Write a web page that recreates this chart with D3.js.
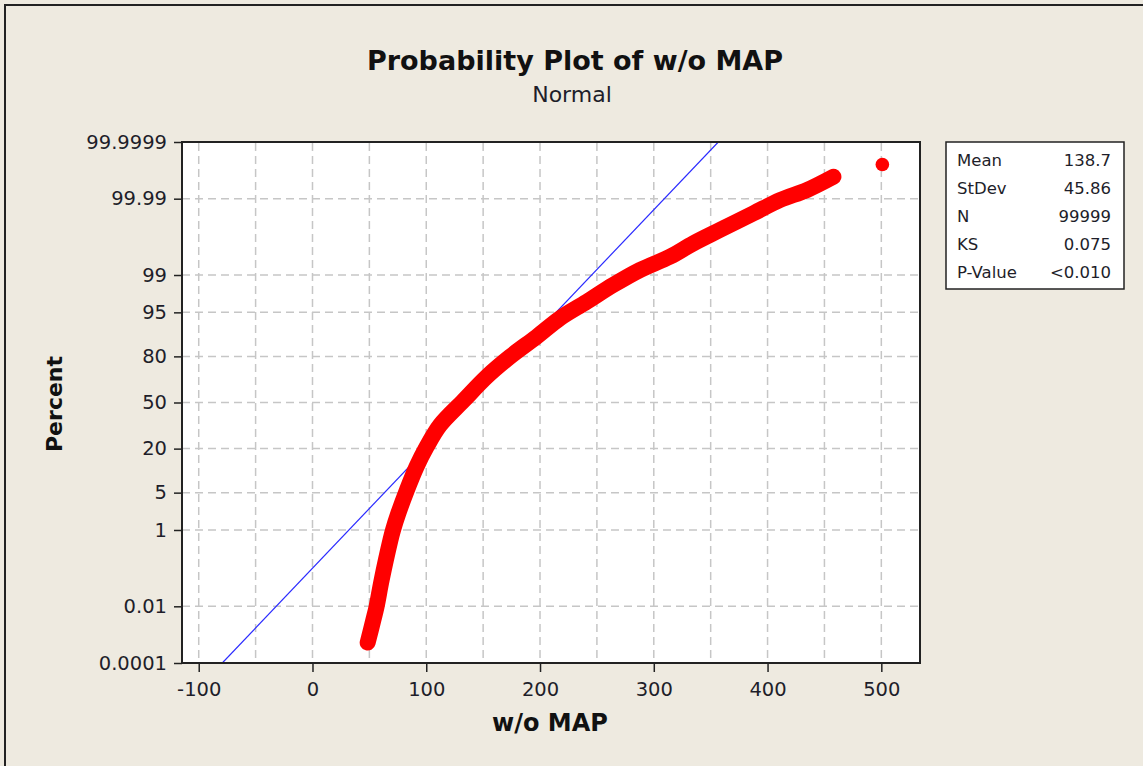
<!DOCTYPE html>
<html>
<head>
<meta charset="utf-8">
<script src="https://cdn.jsdelivr.net/npm/d3@7"></script>
<style>
  body { margin: 0; background: #eeeae0; }
  svg { display: block; font-family: "DejaVu Sans", Verdana, sans-serif; }
</style>
</head>
<body>
<svg id="chart" width="1143" height="766"></svg>
<script>
// Values (x value, cumulative percent)
var obsValues  = [48.5, 53.5, 56.4, 60.8, 68.5, 70.8, 75.5, 83.0, 91.5, 100.4, 112.1, 132.6, 153.1, 173.6, 197.1, 217.6, 241.1, 264.4, 287.9, 314.3, 334.8, 358.2, 387.5, 411.0, 434.5, 457.9, 500.9];
var obsPercent = [0.00059, 0.0036, 0.01, 0.06, 0.60, 1.0, 2.17, 5.5, 12.1, 21.0, 34, 51.3, 68.1, 79.8, 88.5, 93.8, 96.7, 98.40, 99.22, 99.61, 99.816, 99.918, 99.972, 99.989, 99.9947, 99.9981, 99.9993];

// Fit parameters / stats box
var statNames  = ["Mean", "StDev", "N", "KS", "P-Value"];
var statValues = ["138.7", "45.86", "99999", "0.075", "<0.010"];
var fitMean = 138.7;
var fitSd = 45.86;

// Axis ticks
var xTicks = [-100, 0, 100, 200, 300, 400, 500];
var xGrid = [-100, -50, 0, 50, 100, 150, 200, 250, 300, 350, 400, 450, 500];
var yTicks = [0.0001, 0.01, 1, 5, 20, 50, 80, 95, 99, 99.99, 99.9999];
var yTickLabels = ["0.0001", "0.01", "1", "5", "20", "50", "80", "95", "99", "99.99", "99.9999"];

// inverse normal cdf (Acklam)
function probit(p)
{
	var a = [-3.969683028665376e+01, 2.209460984245205e+02, -2.759285104469687e+02, 1.383577518672690e+02, -3.066479806614716e+01, 2.506628277459239e+00];
	var b = [-5.447609879822406e+01, 1.615858368580409e+02, -1.556989798598866e+02, 6.680131188771972e+01, -1.328068155288572e+01];
	var c = [-7.784894002430293e-03, -3.223964580411365e-01, -2.400758277161838e+00, -2.549732539343734e+00, 4.374664141464968e+00, 2.938163982698783e+00];
	var d = [7.784695709041462e-03, 3.224671290700398e-01, 2.445134137142996e+00, 3.754408661907416e+00];
	var plow = 0.02425, q, r;
	if( p < plow ) {
		q = Math.sqrt(-2 * Math.log(p));
		return (((((c[0]*q+c[1])*q+c[2])*q+c[3])*q+c[4])*q+c[5]) / ((((d[0]*q+d[1])*q+d[2])*q+d[3])*q+1);
	}
	if( p > 1 - plow ) {
		q = Math.sqrt(-2 * Math.log(1 - p));
		return -(((((c[0]*q+c[1])*q+c[2])*q+c[3])*q+c[4])*q+c[5]) / ((((d[0]*q+d[1])*q+d[2])*q+d[3])*q+1);
	}
	q = p - 0.5; r = q * q;
	return (((((a[0]*r+a[1])*r+a[2])*r+a[3])*r+a[4])*r+a[5])*q / (((((b[0]*r+b[1])*r+b[2])*r+b[3])*r+b[4])*r+1);
}

var LEFT = 182, RIGHT = 920, TOP = 142, BOTTOM = 663;
var zMax = probit(1 - 1e-6);

var svg = d3.select("#chart");

// outer window border
svg.append("rect")
	.attr("x", 5).attr("y", 5)
	.attr("width", 1145).attr("height", 780)
	.attr("fill", "#eeeae0")
	.attr("stroke", "#222")
	.attr("stroke-width", 2);

var x = d3.scaleLinear().domain([-114.7, 534]).range([LEFT, RIGHT]);
var yz = d3.scaleLinear().domain([-zMax, zMax]).range([BOTTOM, TOP]);
function y(pct) { return yz(probit(pct / 100)); }

// plot area
svg.append("rect")
	.attr("x", LEFT).attr("y", TOP)
	.attr("width", RIGHT - LEFT).attr("height", BOTTOM - TOP)
	.attr("fill", "white");

// grid
var grid = svg.append("g")
	.attr("stroke", "#c6c6c6")
	.attr("stroke-width", 1.5)
	.attr("stroke-dasharray", "8,5");
grid.selectAll(".vg")
	.data(xGrid)
	.enter()
	.append("line")
	.attr("x1", function(d) { return x(d); })
	.attr("x2", function(d) { return x(d); })
	.attr("y1", TOP + 1)
	.attr("y2", BOTTOM);
grid.selectAll(".hg")
	.data(yTicks.slice(1, -1))
	.enter()
	.append("line")
	.attr("x1", LEFT)
	.attr("x2", RIGHT)
	.attr("y1", function(d) { return y(d); })
	.attr("y2", function(d) { return y(d); });

// clip for marks
svg.append("clipPath").attr("id", "plotclip")
	.append("rect")
	.attr("x", LEFT).attr("y", TOP)
	.attr("width", RIGHT - LEFT).attr("height", BOTTOM - TOP);

// fitted normal line
svg.append("line")
	.attr("clip-path", "url(#plotclip)")
	.attr("x1", x(fitMean - zMax * fitSd))
	.attr("y1", yz(-zMax))
	.attr("x2", x(fitMean + zMax * fitSd))
	.attr("y2", yz(zMax))
	.attr("stroke", "#2a2aff")
	.attr("stroke-width", 1.2);

// observed points: dense band (largest observation sits apart)
var pts = obsValues.map(function(v, i) { return [v, obsPercent[i]]; });
var band = d3.line()
	.x(function(d) { return x(d[0]); })
	.y(function(d) { return y(d[1]); })
	.curve(d3.curveCatmullRom);

svg.append("path")
	.attr("d", band(pts.slice(0, -1)))
	.attr("fill", "none")
	.attr("stroke", "#ff0000")
	.attr("stroke-width", 16)
	.attr("stroke-linecap", "round")
	.attr("stroke-linejoin", "round");

svg.selectAll(".pt")
	.data(pts)
	.enter()
	.append("circle")
	.attr("cx", function(d) { return x(d[0]); })
	.attr("cy", function(d) { return y(d[1]); })
	.attr("r", 6.8)
	.attr("fill", "#ff0000");

// frame
svg.append("rect")
	.attr("x", LEFT).attr("y", TOP)
	.attr("width", RIGHT - LEFT).attr("height", BOTTOM - TOP)
	.attr("fill", "none")
	.attr("stroke", "#222")
	.attr("stroke-width", 2);

// axes
svg.append("g")
	.attr("transform", "translate(0," + BOTTOM + ")")
	.call(d3.axisBottom(x).tickValues(xTicks).tickSize(9).tickPadding(10)
		.tickFormat(function(d) { return String(d); }));
svg.append("g")
	.attr("transform", "translate(" + LEFT + ",0)")
	.call(d3.axisLeft(yz)
		.tickValues(yTicks.map(function(p) { return probit(p / 100); }))
		.tickSize(8).tickPadding(7)
		.tickFormat(function(d, i) { return yTickLabels[i]; }));

svg.selectAll(".domain").remove();
svg.selectAll(".tick line").attr("stroke", "#222").attr("stroke-width", 1.5);
svg.selectAll(".tick text")
	.attr("font-family", "DejaVu Sans, sans-serif")
	.attr("font-size", "19.5px")
	.attr("fill", "#1e1e2a");

// titles
svg.append("text")
	.attr("x", 575).attr("y", 70)
	.attr("text-anchor", "middle")
	.attr("font-size", "27px")
	.attr("font-weight", "bold")
	.attr("fill", "#111")
	.text("Probability Plot of w/o MAP");
svg.append("text")
	.attr("x", 572).attr("y", 102)
	.attr("text-anchor", "middle")
	.attr("font-size", "22px")
	.attr("fill", "#1e1e2a")
	.text("Normal");
svg.append("text")
	.attr("x", 550).attr("y", 731)
	.attr("text-anchor", "middle")
	.attr("font-size", "24px")
	.attr("font-weight", "bold")
	.attr("fill", "#111")
	.text("w/o MAP");
svg.append("text")
	.attr("transform", "translate(62,404) rotate(-90)")
	.attr("text-anchor", "middle")
	.attr("font-size", "22px")
	.attr("font-weight", "bold")
	.attr("fill", "#111")
	.text("Percent");

// stats box
var box = svg.append("g");
box.append("rect")
	.attr("x", 946).attr("y", 142)
	.attr("width", 178).attr("height", 147)
	.attr("fill", "white")
	.attr("stroke", "#222")
	.attr("stroke-width", 1.5);
box.selectAll(".sn")
	.data(statNames)
	.enter()
	.append("text")
	.attr("x", 957)
	.attr("y", function(d, i) { return 166 + i * 27.9; })
	.attr("font-size", "16.5px")
	.attr("fill", "#1e1e2a")
	.text(function(d) { return d; });
box.selectAll(".sv")
	.data(statValues)
	.enter()
	.append("text")
	.attr("x", 1111)
	.attr("y", function(d, i) { return 166 + i * 27.9; })
	.attr("text-anchor", "end")
	.attr("font-size", "16.5px")
	.attr("fill", "#1e1e2a")
	.text(function(d) { return d; });
</script>
</body>
</html>
